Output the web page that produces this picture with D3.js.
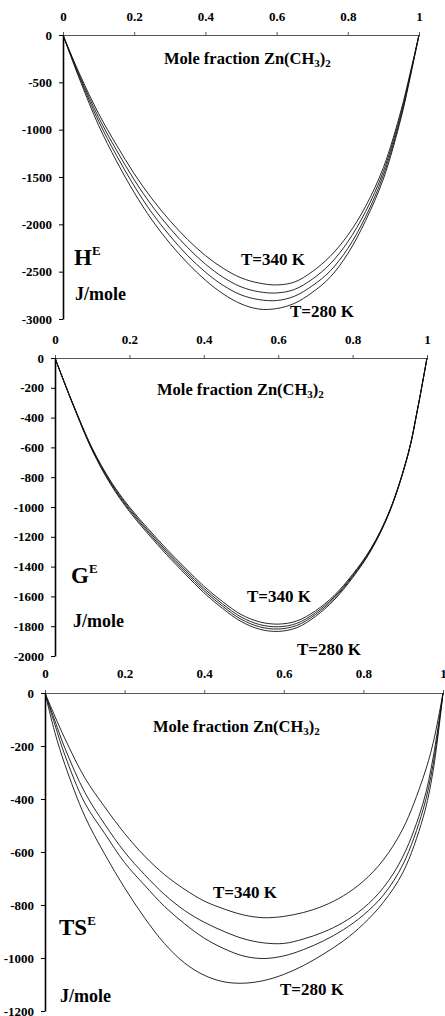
<!DOCTYPE html>
<html>
<head>
<meta charset="utf-8">
<script src="https://cdn.jsdelivr.net/npm/d3@7"></script>
<style>
    body { margin: 0; background: #fff; }
    svg text { font-family: "Liberation Serif", "Times New Roman", serif; font-weight: bold; fill: #000; }
</style>
</head>
<body>
<div id="graph"></div>
<script>
//mole fraction samples shared by all curves
var molFrac = [0, 0.025, 0.05, 0.1, 0.15, 0.2, 0.25, 0.3, 0.35, 0.4, 0.45, 0.5,
    0.55, 0.6, 0.65, 0.7, 0.75, 0.8, 0.85, 0.9, 0.95, 0.975, 1];

//excess enthalpy, J/mole
var hE280 = [0, -255, -500, -955, -1330, -1665, -1955, -2200, -2410, -2590, -2735, -2840, -2895, -2890, -2835, -2720, -2560, -2310, -1960, -1520, -870, -450, 0];
var hE300 = [0, -245, -480, -910, -1270, -1595, -1880, -2120, -2330, -2505, -2645, -2745, -2795, -2805, -2760, -2650, -2495, -2255, -1920, -1480, -850, -440, 0];
var hE320 = [0, -235, -460, -870, -1215, -1530, -1805, -2040, -2245, -2420, -2560, -2660, -2712, -2725, -2688, -2580, -2420, -2185, -1865, -1440, -820, -422, 0];
var hE340 = [0, -225, -440, -830, -1160, -1465, -1730, -1960, -2160, -2330, -2465, -2565, -2620, -2640, -2610, -2500, -2340, -2115, -1810, -1400, -790, -405, 0];

//excess gibbs energy, J/mole
var gE280 = [0, -165, -325, -620, -850, -1030, -1180, -1320, -1450, -1575, -1680, -1768, -1820, -1835, -1810, -1735, -1625, -1475, -1290, -1030, -640, -340, 0];
var gE300 = [0, -164, -322, -615, -843, -1020, -1168, -1307, -1436, -1560, -1665, -1753, -1804, -1819, -1795, -1722, -1615, -1467, -1285, -1027, -638, -339, 0];
var gE320 = [0, -163, -320, -610, -835, -1010, -1157, -1295, -1423, -1546, -1650, -1738, -1789, -1804, -1781, -1710, -1605, -1460, -1280, -1024, -636, -338, 0];
var gE340 = [0, -162, -318, -605, -827, -1000, -1145, -1282, -1409, -1531, -1634, -1721, -1771, -1786, -1765, -1697, -1595, -1452, -1275, -1021, -634, -337, 0];

//excess entropy term T*S, J/mole
var tsE280 = [0, -150, -270, -465, -608, -735, -848, -945, -1018, -1065, -1090, -1095, -1085, -1062, -1028, -985, -935, -872, -790, -675, -470, -295, 0];
var tsE300 = [0, -120, -235, -415, -530, -640, -725, -805, -870, -925, -965, -993, -1002, -992, -968, -935, -893, -838, -763, -645, -440, -270, 0];
var tsE320 = [0, -105, -208, -375, -495, -600, -685, -760, -820, -865, -900, -928, -943, -945, -928, -902, -865, -812, -735, -615, -415, -245, 0];
var tsE340 = [0, -88, -172, -320, -430, -530, -615, -685, -740, -785, -815, -838, -848, -843, -828, -803, -765, -710, -630, -510, -320, -190, 0];

//tick labels
var xTicks = [0, 0.2, 0.4, 0.6, 0.8, 1];
var hTicks = [0, -500, -1000, -1500, -2000, -2500, -3000];
var gTicks = [0, -200, -400, -600, -800, -1000, -1200, -1400, -1600, -1800, -2000];
var tsTicks = [0, -200, -400, -600, -800, -1000, -1200];

//panel layout
var panels = [
    {series: [hE280, hE300, hE320, hE340], ticks: hTicks, min: -3000,
        left: 63, right: 419, top: 35, bottom: 319, tickPad: 11,
        sym: "H", symX: 74, symY: 265, unitX: 75, unitY: 300,
        hot: [241, 265], cold: [290, 317], titleX: 164, titleY: 64},
    {series: [gE280, gE300, gE320, gE340], ticks: gTicks, min: -2000,
        left: 55, right: 427, top: 358, bottom: 656, tickPad: 11,
        sym: "G", symX: 71, symY: 583, unitX: 73, unitY: 627,
        hot: [247, 602], cold: [297, 655], titleX: 157, titleY: 395},
    {series: [tsE280, tsE300, tsE320, tsE340], ticks: tsTicks, min: -1200,
        left: 45, right: 443, top: 693, bottom: 1011, tickPad: 12,
        sym: "TS", symX: 59, symY: 935, unitX: 60, unitY: 1002,
        hot: [213, 898], cold: [280, 995], titleX: 153, titleY: 732}
];

var svg = d3.select("#graph").append("svg")
    .attr("width", 445)
    .attr("height", 1016);

function drawPanel(p){
    var x = d3.scaleLinear().domain([0, 1]).range([p.left, p.right]);
    var y = d3.scaleLinear().domain([0, p.min]).range([p.top, p.bottom]);
    var g = svg.append("g");

    //top x axis
    var xAxis = g.append("g")
        .attr("transform", "translate(0," + p.top + ")")
        .call(d3.axisTop(x).tickValues(xTicks).tickSize(3).tickSizeOuter(0)
            .tickPadding(p.tickPad).tickFormat(function(d){ return String(d); }));
    xAxis.select(".domain").attr("stroke", "#555").attr("stroke-width", 1.2);
    xAxis.selectAll(".tick line").attr("stroke", "#555");
    xAxis.selectAll("text").attr("font-size", "13px");

    //left y axis
    var yAxis = g.append("g")
        .attr("transform", "translate(" + p.left + ",0)")
        .call(d3.axisLeft(y).tickValues(p.ticks).tickSize(4).tickSizeOuter(0)
            .tickPadding(7).tickFormat(function(d){ return String(d); }));
    yAxis.select(".domain").attr("stroke", "#000").attr("stroke-width", 1.6);
    yAxis.selectAll("text").attr("font-size", "13px");

    //curves
    var line = d3.line()
        .x(function(d, i){ return x(molFrac[i]); })
        .y(function(d){ return y(d); })
        .curve(d3.curveCatmullRom.alpha(0.5));

    g.append("g").selectAll("path")
        .data(p.series)
        .enter().append("path")
        .attr("d", function(d){ return line(d); })
        .attr("fill", "none")
        .attr("stroke", "#111")
        .attr("stroke-width", 0.9);

    //axis title
    var title = g.append("text")
        .attr("x", p.titleX)
        .attr("y", p.titleY)
        .attr("font-size", "16.5px");
    title.append("tspan").text("Mole fraction Zn(CH");
    title.append("tspan").attr("font-size", "11px").attr("dy", 3).text("3");
    title.append("tspan").attr("dy", -3).text(")");
    title.append("tspan").attr("font-size", "11px").attr("dy", 3).text("2");

    //quantity symbol
    var sym = g.append("text")
        .attr("x", p.symX)
        .attr("y", p.symY)
        .attr("font-size", "23px");
    sym.append("tspan").text(p.sym);
    sym.append("tspan").attr("font-size", "13px").attr("dy", -10).text("E");

    g.append("text")
        .attr("x", p.unitX)
        .attr("y", p.unitY)
        .attr("font-size", "18px")
        .text("J/mole");

    //temperature labels
    g.append("text")
        .attr("x", p.hot[0])
        .attr("y", p.hot[1])
        .attr("font-size", "17px")
        .text("T=340 K");

    g.append("text")
        .attr("x", p.cold[0])
        .attr("y", p.cold[1])
        .attr("font-size", "17px")
        .text("T=280 K");
}

panels.forEach(drawPanel);
</script>
</body>
</html>
